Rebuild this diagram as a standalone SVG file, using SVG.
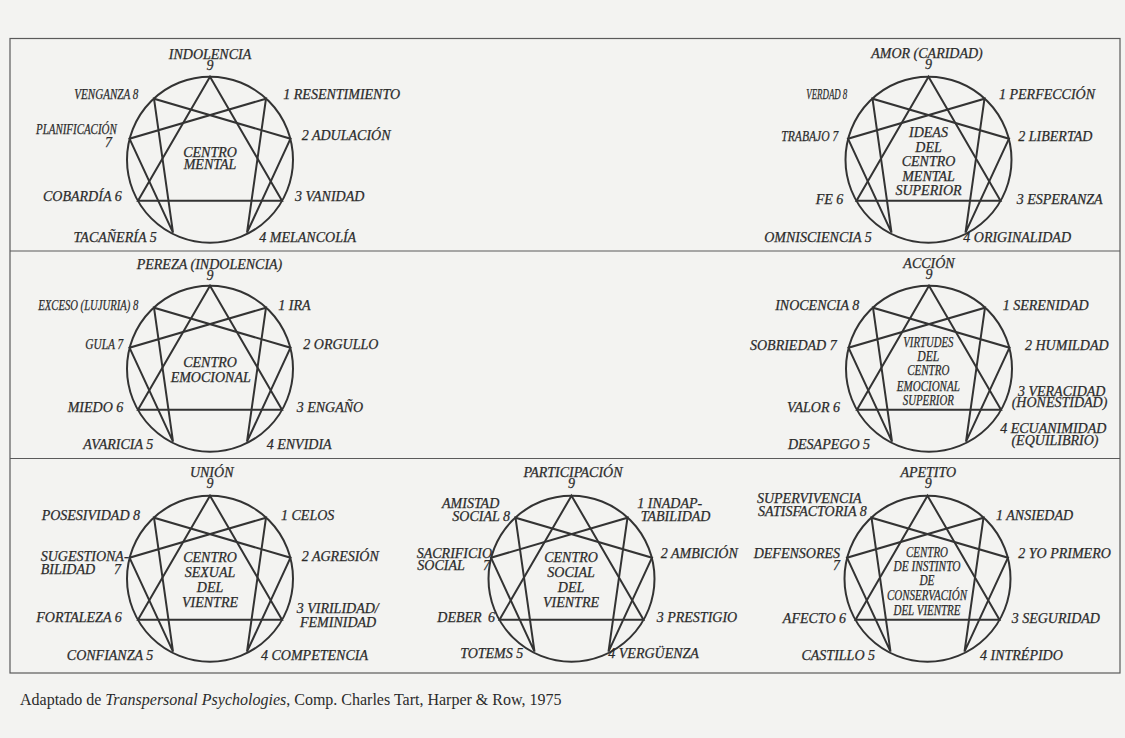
<svg xmlns="http://www.w3.org/2000/svg" xmlns:xlink="http://www.w3.org/1999/xlink" width="1125" height="738" viewBox="0 0 1125 738">
<style>
.t{font-family:"Liberation Serif","DejaVu Serif",serif;font-style:italic;font-size:14px;fill:#2b2b2b;stroke:#2b2b2b;stroke-width:0.25}
.e{text-anchor:end}
.m{text-anchor:middle}
.frame{fill:none;stroke:#5a5a5a;stroke-width:1.2}
.enn{fill:none;stroke:#333;stroke-width:2;stroke-linejoin:miter}
.foot{font-family:"Liberation Serif","DejaVu Serif",serif;font-size:16px;fill:#2b2b2b}
</style>
<defs>
<g id="ennea" class="enn">
<circle cx="0" cy="0" r="83"/>
<path d="M0,-83 L72,41 L-72,41 Z"/>
<path d="M56,-61 L37,73 L80.5,-21 L-56,-61 L-37,73 L-80.5,-21 Z"/>
</g>
</defs>
<rect x="0" y="0" width="1125" height="738" fill="#f3f3f1"/>
<g id="connectors">
<rect class="frame" x="10" y="38.5" width="1110" height="634.5"/>
<line class="frame" x1="10" y1="251" x2="1120" y2="251"/>
<line class="frame" x1="10" y1="458.5" x2="1120" y2="458.5"/>
</g>

<g id="centro-mental">
<use xlink:href="#ennea" href="#ennea" transform="translate(210,159.7)"/>
<text class="t m"><tspan x="210" y="59">INDOLENCIA</tspan><tspan x="210" y="69.5">9</tspan></text>
<text class="t" x="283.3" y="98.5">1 RESENTIMIENTO</text>
<text class="t e" x="138.3" y="98.5" textLength="64" lengthAdjust="spacingAndGlyphs">VENGANZA 8</text>
<text class="t"><tspan x="36" y="134" textLength="80.7" lengthAdjust="spacingAndGlyphs">PLANIFICACIÓN</tspan><tspan x="105" y="146.7">7</tspan></text>
<text class="t" x="301.7" y="140">2 ADULACIÓN</text>
<text class="t m"><tspan x="210" y="157">CENTRO</tspan><tspan x="210" y="169">MENTAL</tspan></text>
<text class="t e" x="121.7" y="200.7">COBARDÍA 6</text>
<text class="t" x="295" y="200.7">3 VANIDAD</text>
<text class="t e" x="156.7" y="242.3">TACAÑERÍA 5</text>
<text class="t" x="259.3" y="242.3">4 MELANCOLÍA</text>
</g>

<g id="ideas-centro-mental-superior">
<use xlink:href="#ennea" href="#ennea" transform="translate(928.5,159.7)"/>
<text class="t m"><tspan x="927" y="58">AMOR (CARIDAD)</tspan><tspan x="928.5" y="68.5">9</tspan></text>
<text class="t" x="999" y="99">1 PERFECCIÓN</text>
<text class="t e" x="847.3" y="99" textLength="41" lengthAdjust="spacingAndGlyphs">VERDAD 8</text>
<text class="t e" x="838.3" y="140.7" textLength="57" lengthAdjust="spacingAndGlyphs">TRABAJO 7</text>
<text class="t" x="1018.3" y="140.7">2 LIBERTAD</text>
<text class="t m"><tspan x="928.5" y="137.3">IDEAS</tspan><tspan x="928.5" y="151.7">DEL</tspan><tspan x="928.5" y="165.9">CENTRO</tspan><tspan x="928.5" y="180.5">MENTAL</tspan><tspan x="928.5" y="195">SUPERIOR</tspan></text>
<text class="t e" x="843.3" y="203.5">FE 6</text>
<text class="t" x="1016.7" y="203.5">3 ESPERANZA</text>
<text class="t e" x="871.7" y="241.7">OMNISCIENCIA 5</text>
<text class="t" x="963.3" y="241.7">4 ORIGINALIDAD</text>
</g>

<g id="centro-emocional">
<use xlink:href="#ennea" href="#ennea" transform="translate(210,368.7)"/>
<text class="t m"><tspan x="209.5" y="269">PEREZA (INDOLENCIA)</tspan><tspan x="210" y="280">9</tspan></text>
<text class="t e" x="138.3" y="310" textLength="100" lengthAdjust="spacingAndGlyphs">EXCESO (LUJURIA) 8</text>
<text class="t" x="278.3" y="310">1 IRA</text>
<text class="t e" x="123.3" y="349" textLength="38" lengthAdjust="spacingAndGlyphs">GULA 7</text>
<text class="t" x="303.3" y="349">2 ORGULLO</text>
<text class="t m"><tspan x="210" y="366.7">CENTRO</tspan><tspan x="210.7" y="381.7">EMOCIONAL</tspan></text>
<text class="t e" x="123.3" y="411.7">MIEDO 6</text>
<text class="t" x="296.7" y="411.7">3 ENGAÑO</text>
<text class="t e" x="153.3" y="449">AVARICIA 5</text>
<text class="t" x="266.7" y="449">4 ENVIDIA</text>
</g>

<g id="virtudes-centro-emocional-superior">
<use xlink:href="#ennea" href="#ennea" transform="translate(929,368.7)"/>
<text class="t m"><tspan x="929" y="267.7">ACCIÓN</tspan><tspan x="929" y="279.3">9</tspan></text>
<text class="t e" x="859.3" y="310">INOCENCIA 8</text>
<text class="t" x="1002.7" y="310">1 SERENIDAD</text>
<text class="t e" x="836.7" y="350">SOBRIEDAD 7</text>
<text class="t" x="1025" y="350">2 HUMILDAD</text>
<text class="t m"><tspan x="928.3" y="346.7" textLength="50" lengthAdjust="spacingAndGlyphs">VIRTUDES</tspan><tspan x="928.3" y="360.7" textLength="22" lengthAdjust="spacingAndGlyphs">DEL</tspan><tspan x="928.3" y="375" textLength="42" lengthAdjust="spacingAndGlyphs">CENTRO</tspan><tspan x="928.3" y="390.7" textLength="63" lengthAdjust="spacingAndGlyphs">EMOCIONAL</tspan><tspan x="928.3" y="405" textLength="51" lengthAdjust="spacingAndGlyphs">SUPERIOR</tspan></text>
<text class="t e" x="840" y="411.7">VALOR 6</text>
<text class="t m"><tspan x="1061.7" y="395.7">3 VERACIDAD</tspan><tspan x="1059.5" y="407.3">(HONESTIDAD)</tspan></text>
<text class="t m"><tspan x="1053.3" y="433.3">4 ECUANIMIDAD</tspan><tspan x="1055" y="445">(EQUILIBRIO)</tspan></text>
<text class="t e" x="870" y="449">DESAPEGO 5</text>
</g>

<g id="centro-sexual-del-vientre">
<use xlink:href="#ennea" href="#ennea" transform="translate(210,578.7)"/>
<text class="t m"><tspan x="211.7" y="476.7">UNIÓN</tspan><tspan x="210" y="488.3">9</tspan></text>
<text class="t e" x="140" y="520">POSESIVIDAD 8</text>
<text class="t" x="281" y="520">1 CELOS</text>
<text class="t"><tspan x="40.7" y="561">SUGESTIONA-</tspan><tspan x="40.7" y="574">BILIDAD</tspan><tspan x="114" y="574">7</tspan></text>
<text class="t" x="301.7" y="561">2 AGRESIÓN</text>
<text class="t m"><tspan x="210" y="562.3">CENTRO</tspan><tspan x="210" y="577.3">SEXUAL</tspan><tspan x="210" y="592.3">DEL</tspan><tspan x="210" y="606.7">VIENTRE</tspan></text>
<text class="t e" x="121.7" y="621.7">FORTALEZA 6</text>
<text class="t"><tspan x="296.7" y="613.3">3 VIRILIDAD/</tspan><tspan x="300" y="626.7">FEMINIDAD</tspan></text>
<text class="t e" x="153.3" y="660">CONFIANZA 5</text>
<text class="t" x="261" y="660">4 COMPETENCIA</text>
</g>

<g id="centro-social-del-vientre">
<use xlink:href="#ennea" href="#ennea" transform="translate(571.5,578.7)"/>
<text class="t m"><tspan x="573" y="476.7">PARTICIPACIÓN</tspan><tspan x="571.5" y="488.3">9</tspan></text>
<text class="t e"><tspan x="499.3" y="508.3">AMISTAD</tspan><tspan x="510" y="520.7">SOCIAL 8</tspan></text>
<text class="t"><tspan x="637.3" y="508.3">1 INADAP-</tspan><tspan x="640.7" y="520.7">TABILIDAD</tspan></text>
<text class="t"><tspan x="416.7" y="557.7">SACRIFICIO</tspan><tspan x="417.3" y="570">SOCIAL</tspan><tspan x="483" y="570">7</tspan></text>
<text class="t" x="660.7" y="558.3">2 AMBICIÓN</text>
<text class="t m"><tspan x="571" y="562.3">CENTRO</tspan><tspan x="571" y="577.3">SOCIAL</tspan><tspan x="571" y="592.3">DEL</tspan><tspan x="571" y="606.7">VIENTRE</tspan></text>
<text class="t" x="437.3" y="621.7">DEBER<tspan x="488">6</tspan></text>
<text class="t" x="656.7" y="621.7">3 PRESTIGIO</text>
<text class="t e" x="523.3" y="658.3">TOTEMS 5</text>
<text class="t" x="608.3" y="658.3">4 VERGÜENZA</text>
</g>

<g id="centro-instinto-conservacion">
<use xlink:href="#ennea" href="#ennea" transform="translate(927.5,578.7)"/>
<text class="t m"><tspan x="928.3" y="476.7">APETITO</tspan><tspan x="928.3" y="488.3">9</tspan></text>
<text class="t e"><tspan x="861.7" y="503.3">SUPERVIVENCIA</tspan><tspan x="866.7" y="516">SATISFACTORIA 8</tspan></text>
<text class="t" x="996" y="520">1 ANSIEDAD</text>
<text class="t e"><tspan x="840" y="557.7">DEFENSORES</tspan><tspan x="840" y="570">7</tspan></text>
<text class="t" x="1018.3" y="558.3">2 YO PRIMERO</text>
<text class="t m"><tspan x="927" y="556.7" textLength="42" lengthAdjust="spacingAndGlyphs">CENTRO</tspan><tspan x="927" y="570.7" textLength="67" lengthAdjust="spacingAndGlyphs">DE INSTINTO</tspan><tspan x="927" y="585" textLength="15" lengthAdjust="spacingAndGlyphs">DE</tspan><tspan x="927" y="600" textLength="80" lengthAdjust="spacingAndGlyphs">CONSERVACIÓN</tspan><tspan x="927" y="615" textLength="67" lengthAdjust="spacingAndGlyphs">DEL VIENTRE</tspan></text>
<text class="t e" x="846" y="623.3">AFECTO 6</text>
<text class="t" x="1011.7" y="623.3">3 SEGURIDAD</text>
<text class="t e" x="875" y="660">CASTILLO 5</text>
<text class="t" x="980" y="660">4 INTRÉPIDO</text>
</g>

<text class="foot" x="20" y="705">Adaptado de <tspan font-style="italic">Transpersonal Psychologies</tspan>, Comp. Charles Tart, Harper &amp; Row, 1975</text>
</svg>
